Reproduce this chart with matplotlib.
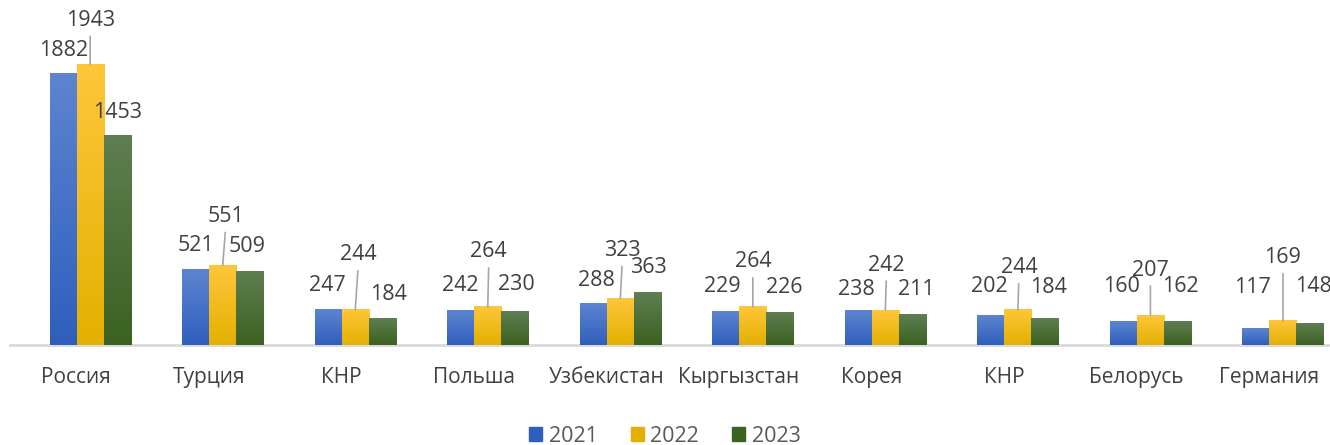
import matplotlib
matplotlib.use('Agg')
import matplotlib.pyplot as plt
import numpy as np

countries = ['Россия', 'Турция', 'КНР', 'Польша', 'Узбекистан',
             'Кыргызстан', 'Корея', 'КНР', 'Белорусь', 'Германия']
years = ['2021', '2022', '2023']
v2021 = [1882, 521, 247, 242, 288, 229, 238, 202, 160, 117]
v2022 = [1943, 551, 244, 264, 323, 264, 242, 244, 207, 169]
v2023 = [1453, 509, 184, 230, 363, 226, 211, 184, 162, 148]

# label offsets from bar top, pixels (dx, up)
off2021 = [(0, 23), (0, 24), (-1, 24), (0, 25), (3, 23), (-3, 25), (-2, 21), (-2, 29), (-2, 35), (-3, 41)]
off2022 = [(0, 44), (3, 49), (3, 55), (1, 55), (2, 48), (0, 45), (1, 45), (1, 42), (0, 45), (0, 63)]
off2023 = [(0, 23), (-3, 25), (6, 24), (2, 27), (1, 25), (4, 25), (4, 25), (4, 31), (3, 35), (3, 37)]

colors = [('#5d84d0', '#2f5fbd'), ('#ffc63a', '#e4b000'), ('#5f7e52', '#3a6220')]

plt.rcParams['font.family'] = ['Open Sans', 'DejaVu Sans']

fig = plt.figure(figsize=(13.3, 4.45), dpi=100)
ax = fig.add_axes([10 / 1330, 1 - 345 / 445, 1320 / 1330, 345 / 445])

x = np.arange(len(countries))
w = 0.204
shift = 0.105
series = [v2021, v2022, v2023]
offs = [off2021, off2022, off2023]

for k, vals in enumerate(series):
    bars = ax.bar(x + shift + (k - 1) * w, vals, w, color=colors[k][1], label=years[k], zorder=2)
    grad = np.linspace(0, 1, 100).reshape(-1, 1)
    cmap = matplotlib.colors.LinearSegmentedColormap.from_list('g', [colors[k][1], colors[k][0]])
    for b, v, (dx, dy) in zip(bars, vals, offs[k]):
        x0 = b.get_x()
        ax.imshow(grad, extent=[x0, x0 + w, 0, v], origin='lower', aspect='auto',
                  cmap=cmap, zorder=3)
        cx = x0 + w / 2
        if k == 1:
            ax.annotate(str(v), xy=(cx, v), xytext=(dx * 0.72, dy * 0.72), textcoords='offset points',
                        ha='center', va='center', fontsize=15.5, color='#404040',
                        arrowprops=dict(arrowstyle='-', color='#a6a6a6', lw=1.2,
                                        relpos=(0.5, 0.0), shrinkA=2, shrinkB=0))
        else:
            ax.annotate(str(v), xy=(cx, v), xytext=(dx * 0.72, dy * 0.72), textcoords='offset points',
                        ha='center', va='center', fontsize=15.5, color='#404040')

ax.set_xlim(-0.5, 9.46)
ax.set_ylim(0, 345 / 0.1445)
ax.set_xticks(x)
ax.set_xticklabels(countries, fontsize=15, color='#404040')
ax.tick_params(axis='x', length=0, pad=16)
ax.set_yticks([])
for s in ['top', 'right', 'left']:
    ax.spines[s].set_visible(False)
ax.spines['bottom'].set_color('#d9d9d9')
ax.spines['bottom'].set_linewidth(2)

handles = [plt.Rectangle((0, 0), 1, 1, color=colors[k][1]) for k in range(3)]
fig.legend(handles, years, loc='center', bbox_to_anchor=(0.5, 1 - 436 / 445), ncol=3,
           frameon=False, fontsize=15.5, labelcolor='#595959', handlelength=0.6,
           handleheight=0.6, handletextpad=0.3, columnspacing=1.55)

fig.savefig('out.png', dpi=100)
